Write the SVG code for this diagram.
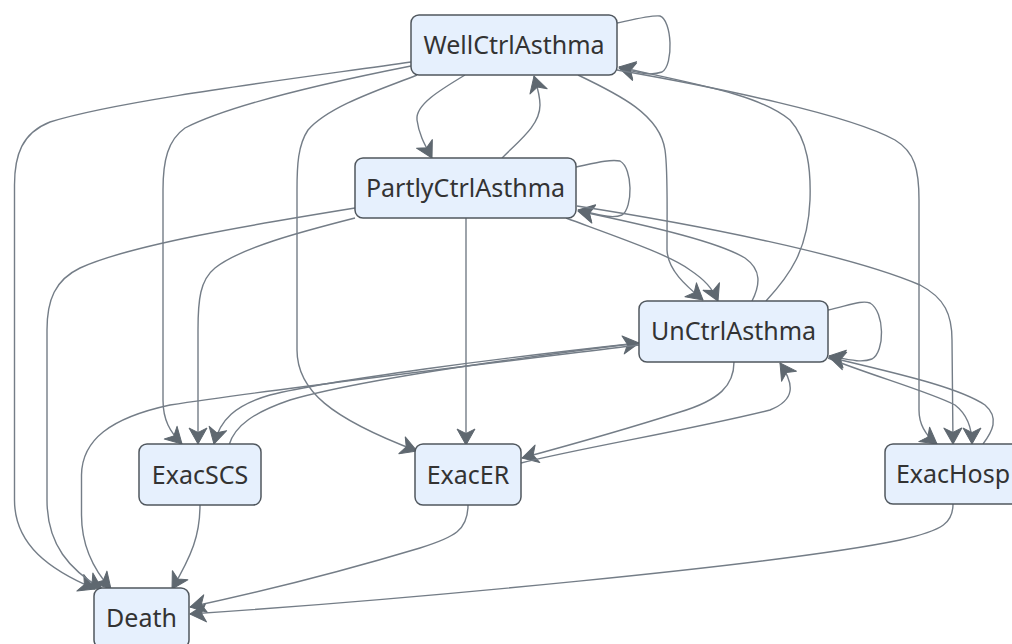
<svg xmlns="http://www.w3.org/2000/svg" width="1012" height="644" viewBox="0 0 1012 644">
<style>
.node rect{fill:#e6f0fd;stroke:#50575e;stroke-width:1.5}
.node text{font-family:"Noto Sans","Open Sans","DejaVu Sans",sans-serif;font-size:25px;fill:#333;text-anchor:middle;dominant-baseline:central}
.edges path{fill:none;stroke:#747d87;stroke-width:1.4}
</style>
<defs>
<marker id="arr" markerUnits="userSpaceOnUse" markerWidth="22" markerHeight="22" refX="17" refY="10" orient="auto" overflow="visible">
<path d="M1,1 L17,10 L1,19 L5.5,10 z" fill="#5f6870" stroke="#5f6870" stroke-width="1" stroke-linejoin="round"/>
</marker>
</defs>
<rect width="1012" height="644" fill="#fff"/>
<g class="edges" marker-end="url(#arr)">
<path id="e-well-death" d="M411,62 C300,78 120,100 50,122 C22,133 14.5,155 14.5,185 L14.5,500 C14.5,545 50,570 95,589"/>
<path id="e-well-scs" d="M411,66 C330,82 230,105 185,128 C168,140 163,160 163,190 L163,400 C163,420 170,432 182,444"/>
<path id="e-well-er" d="M417,75 C385,88 330,105 308,130 C298,145 297,165 297,190 L297,350 C297,390 330,418 417,451"/>
<path id="e-well-partly" d="M465,75 C440,90 415,105 417,120 C419,135 425,145 432,158"/>
<path id="e-partly-well" d="M502,158 C520,140 540,125 540,105 C540,95 537,86 534,76"/>
<path id="e-well-self" d="M617,23 C640,18 652,15 660,16 C672,20 674,65 662,72 C650,76 640,73 619,68"/>
<path id="e-well-un" d="M578,75 C620,95 660,115 665,150 C668,170 667,200 667,250 C668,270 685,285 703,300"/>
<path id="e-un-well" d="M766,301 C790,275 808,250 810,200 C811,170 808,140 790,120 C760,95 700,85 619,67"/>
<path id="e-well-hosp" d="M617,70 C720,88 850,115 895,140 C915,152 919,170 919,200 L919,410 C919,425 925,435 937,444"/>
<path id="e-partly-self" d="M576,167 C595,163 610,159 620,161 C633,168 633,208 622,215 C612,219 600,215 578,210"/>
<path id="e-partly-un" d="M566,218 C620,238 670,255 690,270 C705,280 712,288 718,301"/>
<path id="e-un-partly" d="M752,301 C760,285 762,270 745,258 C720,243 660,228 578,211"/>
<path id="e-partly-hosp" d="M577,206 C700,225 850,255 920,285 C945,298 952,315 952,340 L953,444"/>
<path id="e-partly-death" d="M355,208 C250,225 130,245 80,268 C55,280 47,300 47,330 L47,500 C47,545 70,570 102,589"/>
<path id="e-partly-scs" d="M355,218 C300,232 240,248 215,268 C200,280 198,300 198,330 L198,444"/>
<path id="e-partly-er" d="M466,218 L466,445"/>
<path id="e-un-scs" d="M639,343 C500,358 330,380 270,395 C235,405 220,420 214,444"/>
<path id="e-scs-un" d="M229,445 C235,425 255,412 290,400 C360,380 500,360 639,343"/>
<path id="e-un-death" d="M639,345 C500,362 280,388 170,405 C110,418 82,440 81.5,475 L81.5,515 C81.5,545 92,568 111,589"/>
<path id="e-un-er" d="M734,362 C734,385 720,400 680,412 C630,428 570,445 522,458"/>
<path id="e-er-un" d="M521,463 C580,448 690,430 770,410 C795,400 795,385 780,363"/>
<path id="e-un-self" d="M828,310 C850,305 862,300 870,303 C885,312 885,352 872,359 C862,363 850,360 829,356"/>
<path id="e-un-hosp" d="M828,358 C870,375 930,392 955,405 C968,415 972,428 972,444"/>
<path id="e-hosp-un" d="M983,444 C992,432 1000,418 985,405 C955,385 880,370 829,357"/>
<path id="e-scs-death" d="M200,505 C200,535 192,555 172,589"/>
<path id="e-er-death" d="M468,505 C468,530 455,537 420,548 C340,572 260,592 190,607"/>
<path id="e-hosp-death" d="M953,504 C953,522 945,530 900,540 C780,565 400,600 190,614"/>
</g>
<g id="WellCtrlAsthma" class="node"><rect x="411" y="15" width="206" height="60" rx="8"/><text x="514" y="44">WellCtrlAsthma</text></g>
<g id="PartlyCtrlAsthma" class="node"><rect x="355" y="158" width="221" height="60" rx="8"/><text x="465.5" y="187">PartlyCtrlAsthma</text></g>
<g id="UnCtrlAsthma" class="node"><rect x="639" y="301" width="189" height="61" rx="8"/><text x="733.5" y="330">UnCtrlAsthma</text></g>
<g id="ExacSCS" class="node"><rect x="139" y="444" width="122" height="61" rx="8"/><text x="200" y="474">ExacSCS</text></g>
<g id="ExacER" class="node"><rect x="415" y="444" width="106" height="61" rx="8"/><text x="468" y="474">ExacER</text></g>
<g id="ExacHosp" class="node"><rect x="885" y="444" width="136" height="60" rx="8"/><text x="953" y="473">ExacHosp</text></g>
<g id="Death" class="node"><rect x="94" y="588" width="95" height="60" rx="8"/><text x="141.5" y="617">Death</text></g>
</svg>
